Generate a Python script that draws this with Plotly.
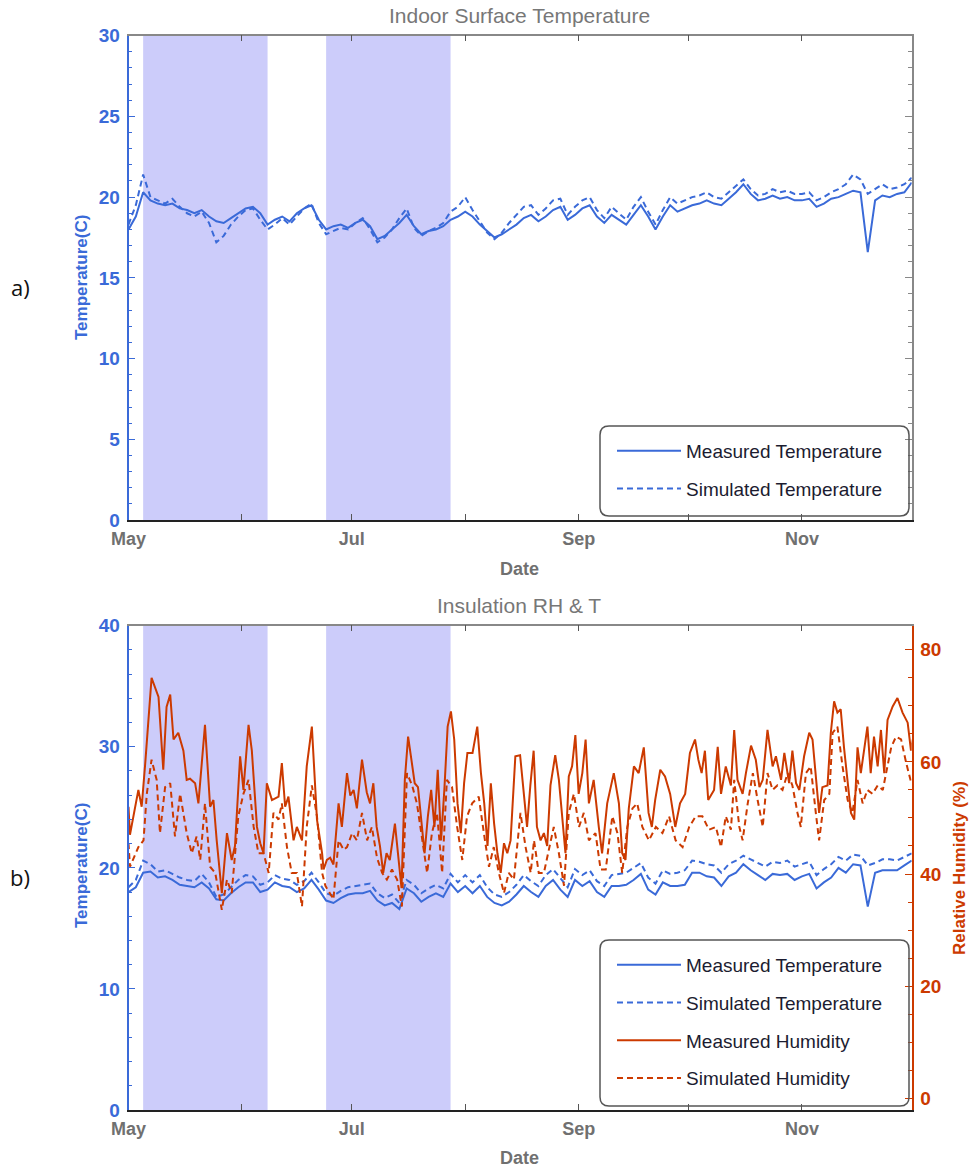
import pandas as pd
import plotly.graph_objects as go

# ---------------- data ----------------
START = "2014-05-01"
END = "2014-12-01"
month_ticks = ["2014-05-01", "2014-06-01", "2014-07-01", "2014-08-01",
               "2014-09-01", "2014-10-01", "2014-11-01", "2014-12-01"]
month_labels = ["May", "", "Jul", "", "Sep", "", "Nov", ""]

shade_start = ["2014-05-05", "2014-06-24"]
shade_end = ["2014-06-08", "2014-07-28"]

t_days = list(range(0, 215, 2))

top_meas = [18.0, 18.8, 20.3, 19.8, 19.6, 19.5, 19.6, 19.3, 19.2, 19.0,
            19.2, 18.8, 18.5, 18.4, 18.7, 19.0, 19.3, 19.4, 19.0, 18.3,
            18.6, 18.8, 18.5, 19.0, 19.3, 19.5, 18.6, 18.0, 18.2, 18.3,
            18.1, 18.4, 18.6, 18.2, 17.4, 17.6, 18.0, 18.4, 18.9, 18.2,
            17.7, 17.9, 18.0, 18.2, 18.6, 18.8, 19.1, 18.8, 18.3, 17.9,
            17.5, 17.7, 18.0, 18.3, 18.7, 18.9, 18.5, 18.8, 19.2, 19.4,
            18.6, 18.9, 19.3, 19.5, 18.8, 18.4, 18.9, 18.6, 18.3, 18.9,
            19.5, 18.8, 18.0, 18.8, 19.5, 19.1, 19.3, 19.5, 19.6, 19.8,
            19.6, 19.5, 19.9, 20.3, 20.8, 20.2, 19.8, 19.9, 20.1, 19.9,
            20.0, 19.8, 19.8, 19.9, 19.4, 19.6, 19.9, 20.0, 20.2, 20.4,
            20.3, 16.6, 19.8, 20.1, 20.0, 20.2, 20.3, 20.9]
top_sim = [18.3, 19.5, 21.4, 20.0, 19.8, 19.6, 19.9, 19.4, 19.0, 18.8,
           19.1, 18.4, 17.2, 17.6, 18.3, 18.8, 19.2, 19.3, 18.6, 18.0,
           18.3, 18.7, 18.3, 18.8, 19.3, 19.6, 18.4, 17.7, 17.9, 18.1,
           18.0, 18.4, 18.7, 18.0, 17.2, 17.5, 18.0, 18.7, 19.3, 18.1,
           17.6, 17.9, 18.1, 18.4, 19.1, 19.4, 20.0, 19.2, 18.5, 17.8,
           17.4, 17.8, 18.4, 18.9, 19.4, 19.5, 18.9, 19.3, 19.8, 19.9,
           18.9, 19.4, 19.8, 20.0, 19.2, 18.7, 19.4, 19.0, 18.6, 19.4,
           20.0, 19.1, 18.3, 19.2, 20.0, 19.6, 19.8, 20.0, 20.1, 20.3,
           20.0, 19.9, 20.3, 20.7, 21.1, 20.5, 20.1, 20.2, 20.5, 20.3,
           20.4, 20.2, 20.2, 20.3, 19.8, 20.0, 20.3, 20.5, 20.8, 21.4,
           21.1, 20.2, 20.5, 20.8, 20.5, 20.6, 20.8, 21.2]

bot_meas = [18.0, 18.4, 19.6, 19.7, 19.2, 19.3, 19.0, 18.6, 18.5, 18.4,
            18.8, 18.3, 17.4, 17.3, 17.9, 18.4, 18.8, 18.8, 18.0, 18.2,
            18.8, 18.5, 18.4, 18.0, 18.3, 19.0, 18.2, 17.3, 17.1, 17.5,
            17.8, 17.9, 17.9, 18.1, 17.3, 16.9, 17.1, 16.6, 18.3, 17.9,
            17.2, 17.6, 17.9, 17.6, 18.7, 18.0, 18.5, 17.9, 18.5, 17.6,
            17.1, 16.9, 17.2, 17.8, 18.5, 18.0, 17.6, 18.5, 19.0, 18.2,
            17.6, 19.0, 18.5, 18.9, 18.0, 17.6, 18.5, 18.5, 18.6, 19.0,
            19.5, 18.2, 17.8, 18.8, 18.5, 18.5, 18.6, 19.6, 19.6, 19.3,
            19.2, 18.5, 19.3, 19.6, 20.3, 19.8, 19.4, 19.0, 19.5, 19.4,
            19.5, 19.0, 19.3, 19.5, 18.3, 18.8, 19.2, 20.0, 19.6, 20.3,
            20.2, 16.8, 19.6, 19.8, 19.8, 19.8, 20.2, 20.6]
bot_sim = [18.4, 19.0, 20.6, 20.3, 19.7, 19.8, 19.5, 19.2, 19.0, 18.9,
           19.5, 18.8, 17.6, 17.8, 18.4, 19.0, 19.4, 19.3, 18.6, 18.8,
           19.4, 19.1, 19.0, 18.6, 18.9, 19.6, 18.8, 17.9, 17.7, 18.1,
           18.4, 18.5, 18.6, 18.7, 17.9, 17.5, 17.8, 17.1, 19.0, 18.6,
           17.9, 18.3, 18.6, 18.3, 19.5, 18.8, 19.4, 18.8, 19.4, 18.4,
           17.8, 17.6, 18.0, 18.6, 19.4, 18.9, 18.5, 19.4, 19.9, 19.1,
           18.4, 19.9, 19.4, 19.8, 18.9, 18.5, 19.4, 19.5, 19.6, 20.0,
           20.4, 19.2, 18.7, 19.8, 19.5, 19.6, 19.8, 20.6, 20.5, 20.3,
           20.2, 19.6, 20.3, 20.6, 21.0, 20.7, 20.4, 20.1, 20.5, 20.4,
           20.6, 20.1, 20.3, 20.5, 19.4, 19.9, 20.3, 20.9, 20.6, 21.1,
           21.0, 20.2, 20.4, 20.7, 20.7, 20.6, 20.9, 21.2]

rh_meas_days = [0, 0.4, 2.7, 3.6, 4.6, 6.3, 8.2, 9.5, 10.4, 11.4, 12.3, 13.6, 15, 15.9, 16.8,
                18.2, 19.1, 20.9, 22.3, 23.2, 24.1, 25.5, 26.9, 28.2, 29.1, 30.5, 31.4, 32.8,
                33.7, 35.1, 36, 36.9, 37.8, 39.2, 41, 41.9, 42.8, 43.7, 45.1, 46, 47.4, 48.7,
                50.1, 51.5, 52.9, 53.3, 54.2, 55.1, 56, 57.4, 58.3, 59.7, 60.6, 61.5, 62.4,
                63.8, 65.1, 66, 66.9, 67.8, 68.7, 69.6, 70.5, 71.4, 72.8, 73.7, 74.6, 75.5,
                76.4, 77.3, 78.2, 79.1, 80, 80.9, 81.8, 82.7, 83.6, 84.5, 85.4, 86.3, 87.2,
                88.1, 89, 89.9, 90.8, 91.7, 92.6, 94, 95.3, 96.3, 97.2, 98.1, 99, 99.9, 100.8,
                101.7, 102.6, 103.5, 104.4, 105.7, 107, 108, 108.9, 109.8, 110.7, 111.6,
                112.6, 113.5, 114.4, 115.3, 116.6, 117.6, 118.5, 119.4, 120.3, 121.2, 122.1,
                123, 124, 124.9, 125.8, 127.1, 128.5, 129.4, 130.8, 132.6, 134, 134.9, 135.8,
                136.7, 138.1, 139.4, 140.8, 142.1, 143, 143.9, 145.3, 146.6, 148, 149.4,
                150.7, 152.1, 153.4, 154.8, 155.7, 156.6, 157.5, 158.4, 160, 161, 161.9,
                163.2, 164.6, 165.5, 166.4, 167.8, 168.7, 170.1, 171.4, 172.4, 173.3, 174.6,
                176, 176.9, 178.3, 179.2, 180.5, 181.4, 182.4, 183.3, 184.6, 186, 186.9,
                187.8, 188.7, 189.6, 191, 191.9, 192.8, 193.7, 194.6, 195.5, 196.5, 197.4,
                198.3, 199.2, 200.1, 201, 201.9, 202.8, 203.7, 204.7, 205.6, 206.5, 207.4,
                208.8, 210.1, 211.5, 212.9, 213.8, 214.3]
rh_meas = [52, 47, 55, 52, 60, 75, 71.6, 58.6, 69.8, 72, 64, 65.2, 62, 56.8, 57,
           56.2, 52.6, 66.6, 52, 53.2, 46, 36.6, 47.3, 42.5, 45, 61, 55, 66.6,
           62, 48.4, 45.5, 43.7, 56.2, 53.2, 53.8, 59.8, 52, 53.8, 46, 48.4, 46, 59.2,
           66.3, 49.7, 43.7, 40.8, 42.5, 42.9, 41.7, 52.6, 48.4, 58, 54, 55, 51.7,
           60.4, 54.6, 52.6, 56.2, 48.4, 45, 40.2, 43.7, 42.5, 49, 43.7, 37.5, 56.8,
           64.5, 60.4, 56.2, 55.5, 49.7, 43.7, 50.3, 55, 48.4, 58.6, 46, 55, 66.3,
           69, 64, 52.6, 47.3, 56.2, 61.6, 61.6, 66.3, 58, 52.6, 45, 56.2, 49, 43.7,
           40.2, 45.5, 43.7, 46, 61, 61.2, 55, 48.4, 55.8, 62, 48.4,
           46, 47.3, 45, 55.8, 61.2, 56.8, 50.9, 43.7, 57.4, 59.2, 64.8,
           54.3, 58, 64, 52.6, 56.8, 48.4, 43.7, 52.6, 58, 52.6, 43.7, 42.5,
           51.7, 59.2, 58, 62.6, 50.9, 48.4, 53.2, 58.6, 57.4, 54.3, 48.4,
           52.6, 54.3, 61.6, 64, 60.4, 58, 62, 53.2, 55, 62.7, 54.3,
           59.2, 55.8, 65.7, 56.8, 54.3, 58, 62.9, 60.4, 55.5, 56.8, 65.7,
           59.2, 61, 56.8, 61.6, 56.2, 62, 56.2, 55, 61, 65.2, 64,
           58, 50.9, 55.5, 55.8, 65.2, 70.8, 68.8, 69.4, 62.6, 56.8, 50.9,
           49.7, 62.6, 58, 62, 66.3, 58, 64.5, 59.2, 65.7, 58, 67.5,
           69.9, 71.4, 68.8, 67, 62, 64]

rh_sim_days = [0, 0.4, 2.7, 4.1, 5, 6.3, 7.7, 8.6, 10, 11.4, 12.7, 14.1, 15.9, 17.3, 18.6,
               19.6, 20.9, 22.3, 23.7, 25.5, 26.9, 28.2, 30, 31.4, 32.8, 34.2, 35.5, 36.9,
               38.3, 39.6, 41, 41.9, 43.3, 44.6, 46, 47.4, 48.7, 50.1, 51.5, 52.9,
               53.8, 56, 57.4, 58.8, 59.7, 61.1, 62.4, 63.8, 65.2, 66.5, 67.9, 69.3, 70.6,
               72, 73.4, 74.7, 76.1, 77.5, 78.8, 80.2, 81.6, 82.9, 84.3, 85.7, 87, 88.4,
               89.8, 91.2, 92.5, 93.9, 95.7, 97.1, 98.5, 99.8, 101.2, 102.6, 103.9, 105.3,
               107.1, 108.5, 109.9, 110.8, 112.1, 113.5, 114.9, 116.2, 117.6, 119, 120.3,
               121.7, 123.1, 124.4, 125.8, 127.6, 129, 130.4, 132.2, 133.6, 134.9, 136.3,
               137.7, 139, 140.4, 142.2, 144.1, 145.9, 147.7, 149.5, 151.4, 153.2, 155,
               156.8, 158.6, 160.5, 161.9, 163.2, 164.6, 165.5, 166.9, 167.8, 169.2, 170.6,
               171.9, 173.3, 174.6, 176, 177.3, 178.7, 180.1, 181.4, 182.8, 183.7, 185.1,
               186.4, 187.8, 188.7, 190.1, 191.5, 192.4, 193.7, 195.1, 196.5, 197.8, 199.2,
               200.6, 201.9, 203.3, 204.7, 206.1, 207, 208.4, 209.7, 211.1, 212.5, 213.9]
rh_sim = [45.5, 41.3, 44.8, 46, 54.3, 60.4, 56.8, 47.3, 55.5, 56.2, 46.7, 54.3, 47.3, 43.7, 46.7,
          42.5, 52.6, 41.3, 40.2, 33.6, 39, 36.6, 50.3, 54.3, 56.8, 48.4, 43.7, 43.7,
          40.2, 50.9, 49.7, 52.6, 44.8, 40.2, 40.2, 34.2, 48.4, 55.8, 50.3, 40.2,
          37.9, 35.5, 46, 44.3, 44.8, 47.3, 46, 50.9, 46, 48.4, 42.9, 40.2, 39,
          40.8, 39, 34.2, 58, 55.8, 52.6, 46, 40.2, 47.3, 50.9, 40.2, 56.8, 55.5,
          48.4, 42.5, 50.3, 52.6, 53.8, 47.3, 41.3, 44.8, 40.2, 36.6, 40.2, 39,
          50.9, 44.8, 40.2, 46, 40.2, 40.2, 44.8, 48.4, 43.7, 37.9, 50.9,
          54.3, 48.4, 50.9, 46, 47.3, 40.8, 40.8, 50.3, 47.3, 40.2, 48.4,
          51.7, 52.6, 48.4, 46, 48.4, 47.3, 50.3, 46, 44.8, 48.4, 50.3,
          50.3, 47.9, 48.4, 44.8, 50.3, 47.9, 56.8, 48.4, 46, 52.6, 58,
          53.2, 48.4, 58, 55, 55.8, 55, 58, 55.8, 50.9, 48.4, 58,
          59.2, 50.9, 46, 53.2, 54.3, 65.2, 66.3, 59.2, 53.2, 50.9, 56.8,
          52.6, 55, 54.3, 55.8, 55, 58, 62.6, 64.5, 64, 59.8, 56.2]

# ---------------- styling ----------------
W, H = 970, 1171
BLUE = "#3A6AD8"
RED = "#CC3A00"
SHADE = "#CCCCFA"
GRAY_TXT = "#707070"
FONT = "Liberation Sans"

base = pd.Timestamp(START)
def to_dates(days):
    return base + pd.to_timedelta(days, unit="D")

XL, XR = 128.5, 911.7
TOP_T, TOP_B = 35.7, 520.0
BOT_T, BOT_B = 625.7, 1110.0
xdom = [XL / W, XR / W]
ydom_top = [1 - TOP_B / H, 1 - TOP_T / H]
ydom_bot = [1 - BOT_B / H, 1 - BOT_T / H]

fig = go.Figure()

dash = "6px,4px"
tdates = to_dates(t_days)

# top panel
fig.add_trace(go.Scatter(x=tdates, y=top_meas, mode="lines", name="Measured Temperature",
                         line=dict(color=BLUE, width=2), xaxis="x", yaxis="y",
                         legend="legend", legendgroup="a1", legendrank=1))
fig.add_trace(go.Scatter(x=tdates, y=top_sim, mode="lines", name="Simulated Temperature",
                         line=dict(color=BLUE, width=2, dash=dash), xaxis="x", yaxis="y",
                         legend="legend", legendgroup="a2", legendrank=2))
# bottom panel
fig.add_trace(go.Scatter(x=to_dates(rh_meas_days), y=rh_meas, mode="lines", name="Measured Humidity",
                         line=dict(color=RED, width=2), xaxis="x2", yaxis="y4",
                         legend="legend2", legendgroup="b3", legendrank=3))
fig.add_trace(go.Scatter(x=to_dates(rh_sim_days), y=rh_sim, mode="lines", name="Simulated Humidity",
                         line=dict(color=RED, width=2, dash=dash), xaxis="x2", yaxis="y4",
                         legend="legend2", legendgroup="b4", legendrank=4))
fig.add_trace(go.Scatter(x=tdates, y=bot_meas, mode="lines", name="Measured Temperature",
                         line=dict(color=BLUE, width=2), xaxis="x2", yaxis="y2",
                         legend="legend2", legendgroup="b1", legendrank=1))
fig.add_trace(go.Scatter(x=tdates, y=bot_sim, mode="lines", name="Simulated Temperature",
                         line=dict(color=BLUE, width=2, dash=dash), xaxis="x2", yaxis="y2",
                         legend="legend2", legendgroup="b2", legendrank=2))
# empty traces to register mirror axes
fig.add_trace(go.Scatter(x=[], y=[], xaxis="x3", yaxis="y3", showlegend=False))
fig.add_trace(go.Scatter(x=[], y=[], xaxis="x4", yaxis="y2", showlegend=False))

xcommon = dict(type="date", range=[START, END], tickmode="array", tickvals=month_ticks,
               showgrid=False, zeroline=False, ticks="inside", ticklen=6, tickwidth=1.2,
               tickcolor="#555555", automargin=False)
xbottom = dict(xcommon, ticktext=month_labels, showline=True, linecolor="#222222", linewidth=1.5,
               tickfont=dict(family=FONT, size=18, color=GRAY_TXT, weight="bold"),
               ticklabelstandoff=2)
xtop = dict(xcommon, side="top", showticklabels=False, showline=True, linecolor="#888888",
            linewidth=1.5)

def ycfg(rng, dt, mdt, color, labels=True, side="left"):
    return dict(range=rng, tick0=0, dtick=dt, showgrid=False, zeroline=False, ticks="inside",
                ticklen=7, tickwidth=1.2, tickcolor=color, showline=True, linecolor=color,
                linewidth=1.5, side=side, showticklabels=labels, ticklabelstandoff=3,
                automargin=False,
                tickfont=dict(family=FONT, size=19, color=color, weight="bold"),
                minor=dict(dtick=mdt, tick0=0, ticks="inside", ticklen=4, tickcolor=color,
                           tickwidth=1.2, showgrid=False))

fig.update_layout(
    width=W, height=H, margin=dict(l=0, r=0, t=0, b=0, pad=0, autoexpand=False),
    paper_bgcolor="white", plot_bgcolor="white",
    font=dict(family=FONT),
    xaxis=dict(xbottom, domain=xdom, anchor="y"),
    xaxis3=dict(xtop, overlaying="x", anchor="y"),
    yaxis=dict(ycfg([0, 30], 5, 1, BLUE), domain=ydom_top, anchor="x"),
    yaxis3=dict(ycfg([0, 30], 5, 1, "#888888", labels=False, side="right"),
                overlaying="y", anchor="x"),
    xaxis2=dict(xbottom, domain=xdom, anchor="y2"),
    xaxis4=dict(xtop, overlaying="x2", anchor="y2"),
    yaxis2=dict(ycfg([0, 40], 10, 2, BLUE), domain=ydom_bot, anchor="x2"),
    yaxis4=dict(ycfg([-2.1, 84.3], 20, 5, RED, side="right"), overlaying="y2", anchor="x2"),
    showlegend=True,
)

legend_common = dict(xanchor="left", yanchor="top", bgcolor="rgba(255,255,255,0)",
                     borderwidth=0, font=dict(family=FONT, size=19, color="#1c1c30"),
                     itemwidth=64, tracegroupgap=10, traceorder="grouped",
                     itemclick=False)
fig.update_layout(
    legend=dict(legend_common, x=612 / W, y=1 - 432 / H),
    legend2=dict(legend_common, x=612 / W, y=1 - 946 / H),
)

# shaded periods
for s, e in zip(shade_start, shade_end):
    for xr, yr in (("x", "y domain"), ("x2", "y2 domain")):
        fig.add_shape(type="rect", xref=xr, yref=yr, x0=s, x1=e, y0=0, y1=1,
                      fillcolor=SHADE, line=dict(width=0), layer="below")

# rounded legend boxes
def rounded(x0, y0, x1, y1, r=9):
    def P(x, y):
        return f"{x / W:.5f},{1 - y / H:.5f}"
    return (f"M {P(x0 + r, y0)} L {P(x1 - r, y0)} Q {P(x1, y0)} {P(x1, y0 + r)} "
            f"L {P(x1, y1 - r)} Q {P(x1, y1)} {P(x1 - r, y1)} L {P(x0 + r, y1)} "
            f"Q {P(x0, y1)} {P(x0, y1 - r)} L {P(x0, y0 + r)} Q {P(x0, y0)} {P(x0 + r, y0)} Z")

for box in ((600, 426, 909, 516), (600, 940, 909, 1106)):
    fig.add_shape(type="path", xref="paper", yref="paper", path=rounded(*box),
                  line=dict(color="#555555", width=1.5), fillcolor="rgba(0,0,0,0)",
                  layer="above")

def ann(text, x, y, size, color, bold=False, angle=0, family=FONT):
    fig.add_annotation(text=text, x=x / W, y=1 - y / H, xref="paper", yref="paper",
                       showarrow=False, textangle=angle, xanchor="center", yanchor="middle",
                       font=dict(family=family, size=size, color=color,
                                 weight="bold" if bold else "normal"))

ann("Indoor Surface Temperature", 519, 16, 21, "#777777")
ann("Insulation RH &amp; T", 519, 605, 21, "#777777")
ann("Date", 519, 569, 18, GRAY_TXT, bold=True)
ann("Date", 519, 1158, 18, GRAY_TXT, bold=True)
ann("Temperature(C)", 81, 278, 17, BLUE, bold=True, angle=-90)
ann("Temperature(C)", 81, 866, 17, BLUE, bold=True, angle=-90)
ann("Relative Humidity (%)", 959, 868, 17, RED, bold=True, angle=-90)
ann("a)", 20, 287, 22, "#111111", family="Open Sans")
ann("b)", 20, 877, 22, "#111111", family="Open Sans")

fig.write_html("out.html")
